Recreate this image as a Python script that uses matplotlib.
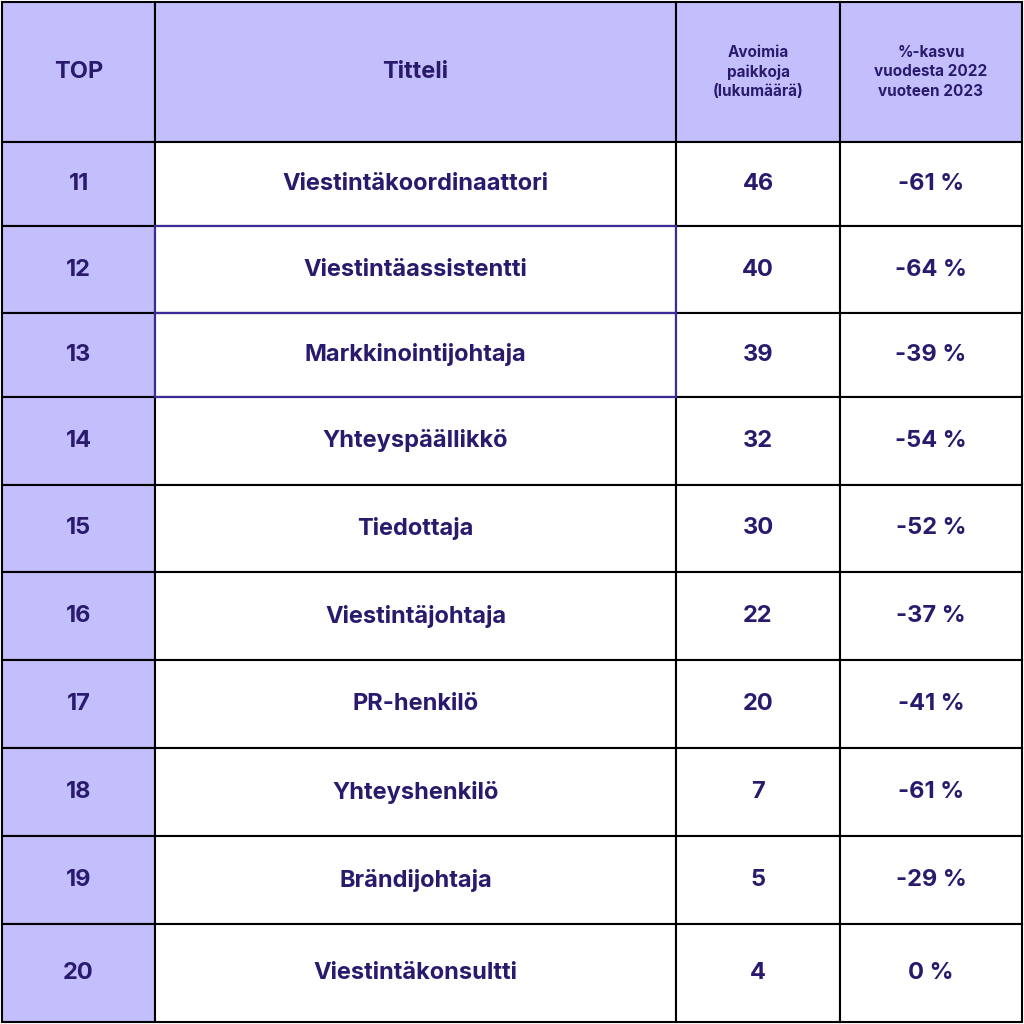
import matplotlib.pyplot as plt
from matplotlib.patches import Rectangle

ranks = [11, 12, 13, 14, 15, 16, 17, 18, 19, 20]
titles = ["Viestintäkoordinaattori", "Viestintäassistentti", "Markkinointijohtaja",
          "Yhteyspäällikkö", "Tiedottaja", "Viestintäjohtaja", "PR-henkilö",
          "Yhteyshenkilö", "Brändijohtaja", "Viestintäkonsultti"]
openings = [46, 40, 39, 32, 30, 22, 20, 7, 5, 4]
growth = [-61, -64, -39, -54, -52, -37, -41, -61, -29, 0]
headers = ["TOP", "Titteli", "Avoimia\npaikkoja\n(lukumäärä)", "%-kasvu\nvuodesta 2022\nvuoteen 2023"]

# layout in pixel coordinates
col_edges = [2, 155, 676, 840, 1022]
row_edges = [2, 142, 226, 313, 397, 485, 572, 660, 748, 836, 924, 1022]

lav = "#c3bffc"
ink = "#2a1a6e"

fig = plt.figure(figsize=(10.24, 10.24), dpi=100)
ax = fig.add_axes([0, 0, 1, 1])
ax.set_xlim(0, 1024)
ax.set_ylim(1024, 0)
ax.axis("off")

def cell(c, r, fill, edge="black", lw=1.5):
    x0, x1 = col_edges[c], col_edges[c + 1]
    y0, y1 = row_edges[r], row_edges[r + 1]
    ax.add_patch(Rectangle((x0, y0), x1 - x0, y1 - y0, facecolor=fill, edgecolor=edge, lw=lw))
    return (x0 + x1) / 2, (y0 + y1) / 2

font = dict(family="Inter", weight="bold", color=ink, ha="center", va="center")

for c, h in enumerate(headers):
    cx, cy = cell(c, 0, lav)
    small = c >= 2
    ax.text(cx, cy, h, fontsize=11 if small else 17, linespacing=1.35, **font)

for i in range(len(ranks)):
    r = i + 1
    vals = [str(ranks[i]), titles[i], str(openings[i]), f"{growth[i]} %"]
    for c, v in enumerate(vals):
        fill = lav if c == 0 else "white"
        cx, cy = cell(c, r, fill)
        ax.text(cx, cy, v, fontsize=17, **font)

# purple outline on the highlighted title cells
for r in (2, 3):
    x0, x1 = col_edges[1], col_edges[2]
    y0, y1 = row_edges[r], row_edges[r + 1]
    ax.add_patch(Rectangle((x0, y0), x1 - x0, y1 - y0, facecolor="none", edgecolor="#3b2a9a", lw=1.5))

fig.savefig("out.png", dpi=100, facecolor="white")
